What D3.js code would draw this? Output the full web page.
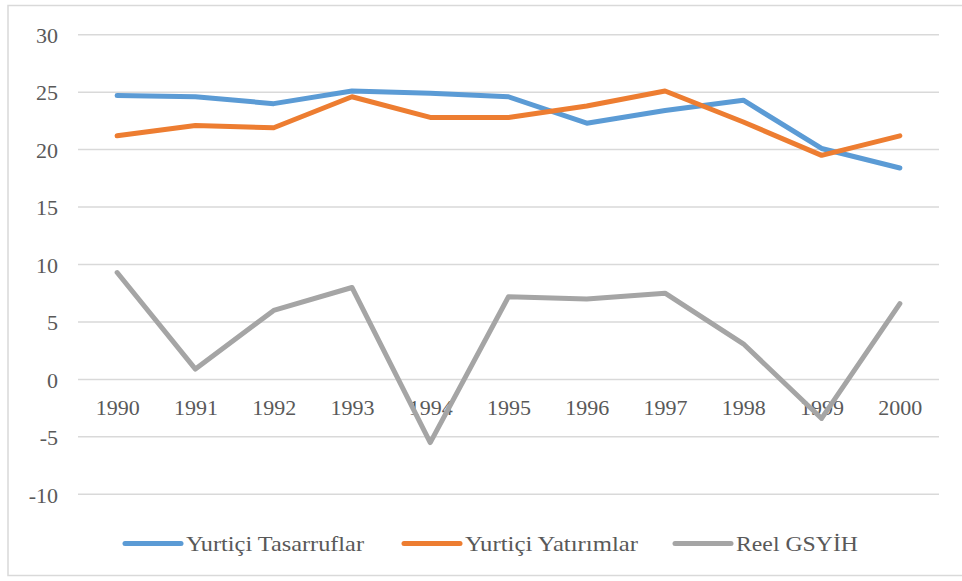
<!DOCTYPE html>
<html>
<head>
<meta charset="utf-8">
<script src="https://cdn.jsdelivr.net/npm/d3@7"></script>
<style>
  body { margin: 0; background: #fff; }
</style>
</head>
<body>
<div id="chart"></div>
<script>
// chart data
var years = ['1990', '1991', '1992', '1993', '1994', '1995', '1996', '1997', '1998', '1999', '2000']
var savings = [24.7, 24.6, 24.0, 25.1, 24.9, 24.6, 22.3, 23.4, 24.3, 20.1, 18.4]
var investments = [21.2, 22.1, 21.9, 24.6, 22.8, 22.8, 23.8, 25.1, 22.4, 19.5, 21.2]
var realGdp = [9.3, 0.9, 6.0, 8.0, -5.5, 7.2, 7.0, 7.5, 3.1, -3.4, 6.6]
var seriesNames = ['Yurtiçi Tasarruflar', 'Yurtiçi Yatırımlar', 'Reel GSYİH']
var yTicks = [-10, -5, 0, 5, 10, 15, 20, 25, 30]

var seriesColors = ['#5b9bd5', '#ed7d31', '#a5a5a5']
var seriesValues = [savings, investments, realGdp]

var serif = "'Liberation Serif', 'Times New Roman', serif"
var textColor = '#595959'

// Define SVG area dimensions
var svgWidth = 962
var svgHeight = 581

var margin = { top: 34.7, right: 23, bottom: 86.7, left: 78 }
var width = svgWidth - margin.left - margin.right
var height = svgHeight - margin.top - margin.bottom

var svg = d3.select('#chart')
  .append('svg')
  .attr('width', svgWidth)
  .attr('height', svgHeight)

// chart frame
svg.append('rect')
  .attr('x', 8)
  .attr('y', 5.5)
  .attr('width', 1000)
  .attr('height', 570)
  .attr('fill', 'none')
  .attr('stroke', '#d9d9d9')
  .attr('stroke-width', 1.5)

var chartGroup = svg.append('g')
  .attr('transform', `translate(${margin.left}, ${margin.top})`)

var xScale = d3.scalePoint()
  .domain(years)
  .range([0, width])
  .padding(0.5)

var yScale = d3.scaleLinear()
  .domain([-10, 30])
  .range([height, 0])

// gridlines
chartGroup.selectAll('.grid')
  .data(yTicks)
  .enter()
  .append('line')
  .attr('x1', 0)
  .attr('x2', width)
  .attr('y1', d => yScale(d))
  .attr('y2', d => yScale(d))
  .attr('stroke', '#d9d9d9')
  .attr('stroke-width', 1.5)

// y axis labels (plain hyphen for negatives, like the original)
var leftAxis = d3.axisLeft(yScale)
  .tickValues(yTicks)
  .tickFormat(d => String(d))
  .tickSize(0)
  .tickPadding(20)
var yAxisGroup = chartGroup.append('g')
  .call(leftAxis)
yAxisGroup.attr('font-family', null).attr('font-size', null)
yAxisGroup.select('.domain').remove()
yAxisGroup.selectAll('text')
  .attr('dy', '0.35em')
  .style('font-family', serif)
  .style('font-size', '22px')
  .style('fill', textColor)

// x axis labels sit just under the zero line
var bottomAxis = d3.axisBottom(xScale).tickSize(0).tickPadding(20)
var xAxisGroup = chartGroup.append('g')
  .attr('transform', `translate(0, ${yScale(0)})`)
  .call(bottomAxis)
xAxisGroup.attr('font-family', null).attr('font-size', null)
xAxisGroup.select('.domain').remove()
xAxisGroup.selectAll('text')
  .style('font-family', serif)
  .style('font-size', '22px')
  .style('fill', textColor)

// lines
var line = d3.line()
  .x((d, i) => xScale(years[i]))
  .y(d => yScale(d))

chartGroup.selectAll('.series')
  .data(seriesValues)
  .enter()
  .append('path')
  .attr('d', d => line(d))
  .attr('fill', 'none')
  .attr('stroke', (d, i) => seriesColors[i])
  .attr('stroke-width', 5)
  .attr('stroke-linejoin', 'round')
  .attr('stroke-linecap', 'round')

// legend
var legendX = [125, 404, 675]
var legendTextWidth = [178, 173, 122]
var legendY = 543.5

var legend = svg.selectAll('.legend')
  .data(seriesNames)
  .enter()
  .append('g')
  .attr('transform', (d, i) => `translate(${legendX[i]}, ${legendY})`)

legend.append('line')
  .attr('x1', 0)
  .attr('x2', 56)
  .attr('stroke', (d, i) => seriesColors[i])
  .attr('stroke-width', 5)
  .attr('stroke-linecap', 'round')

legend.append('text')
  .attr('x', 61)
  .attr('dy', '0.35em')
  .attr('textLength', (d, i) => legendTextWidth[i])
  .attr('lengthAdjust', 'spacingAndGlyphs')
  .style('font-family', serif)
  .style('font-size', '22px')
  .style('fill', textColor)
  .text(d => d)
</script>
</body>
</html>
